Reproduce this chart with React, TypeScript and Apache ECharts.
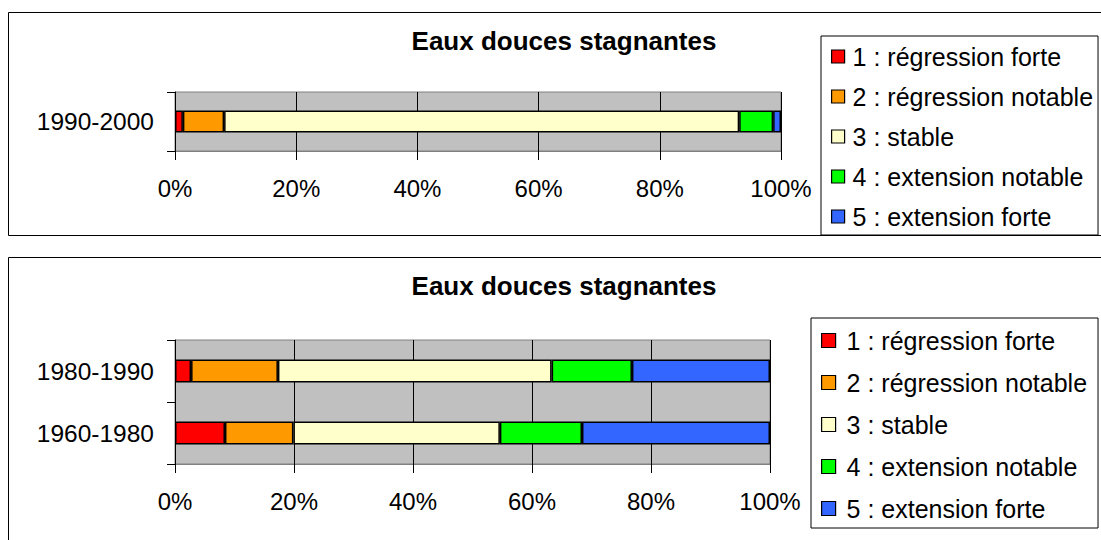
import React, { useEffect, useRef } from "react";
import * as echarts from "echarts";

const FONT = "'Liberation Sans', Arial, sans-serif";

const chartTitle = "Eaux douces stagnantes";
const categoriesTop = ["1990-2000"];
const categoriesBottom = ["1960-1980", "1980-1990"];
const seriesNames = [
  "1 : régression forte",
  "2 : régression notable",
  "3 : stable",
  "4 : extension notable",
  "5 : extension forte",
];
const seriesColors = ["#FF0000", "#FF9900", "#FFFFCC", "#00FF00", "#3366FF"];

// percentages per class (1..5)
const values1990_2000 = [1.3, 6.8, 85.0, 5.6, 1.3];
const values1960_1980 = [8.4, 11.5, 34.7, 13.8, 31.6];
const values1980_1990 = [2.7, 14.6, 46.0, 13.5, 23.2];

const xMin = 0;
const xMax = 100;
const xInterval = 20;

export default function App() {
  const ref = useRef<HTMLDivElement>(null);

  useEffect(() => {
    if (!ref.current) return;
    const chart = echarts.init(ref.current, undefined, { renderer: "svg" });

    const xAxisBase = (gridIndex: number) => ({
      type: "value",
      gridIndex,
      min: xMin,
      max: xMax,
      interval: xInterval,
      axisLine: { show: true, lineStyle: { color: "#808080", width: 1 } },
      axisTick: { show: true, length: 9, lineStyle: { color: "#000", width: 1 } },
      axisLabel: {
        formatter: "{value}%",
        color: "#000",
        fontSize: 24,
        fontFamily: FONT,
        margin: 25,
      },
      splitLine: { show: true, lineStyle: { color: "#000", width: 1 } },
    });

    const yAxisBase = (gridIndex: number, data: string[]) => ({
      type: "category",
      gridIndex,
      data,
      axisLine: { show: true, lineStyle: { color: "#000", width: 1 } },
      axisTick: { show: true, length: 8, lineStyle: { color: "#000", width: 1 } },
      axisLabel: { color: "#000", fontSize: 24.5, fontFamily: FONT, margin: 21 },
      splitLine: { show: false },
    });

    const series: any[] = [];
    seriesNames.forEach((name, i) => {
      series.push({
        type: "bar",
        name,
        stack: "top",
        xAxisIndex: 0,
        yAxisIndex: 0,
        barWidth: 22,
        data: [values1990_2000[i]],
        itemStyle: { color: seriesColors[i], borderColor: "#000", borderWidth: 1.5 },
        emphasis: { disabled: true },
        silent: true,
      });
    });
    seriesNames.forEach((name, i) => {
      series.push({
        type: "bar",
        name,
        stack: "bottom",
        xAxisIndex: 1,
        yAxisIndex: 1,
        barWidth: 23,
        data: [values1960_1980[i], values1980_1990[i]],
        itemStyle: { color: seriesColors[i], borderColor: "#000", borderWidth: 1.5 },
        emphasis: { disabled: true },
        silent: true,
      });
    });

    const legendBase = {
      orient: "vertical",
      icon: "rect",
      data: seriesNames,
      borderColor: "#000",
      borderWidth: 1,
      backgroundColor: "#fff",
      selectedMode: false,
      itemStyle: { borderColor: "#000", borderWidth: 1.2 },
    };

    const titleBase = {
      text: chartTitle,
      left: 564,
      textAlign: "center",
      padding: 0,
      textStyle: { color: "#000", fontSize: 26, fontWeight: "bold", fontFamily: FONT },
    };

    chart.setOption({
      animation: false,
      backgroundColor: "#fff",
      title: [
        { ...titleBase, top: 28 },
        { ...titleBase, top: 273 },
      ],
      graphic: [
        {
          type: "rect",
          z: -10,
          silent: true,
          shape: { x: 8.5, y: 12.5, width: 1110, height: 223 },
          style: { fill: "none", stroke: "#000", lineWidth: 1 },
        },
        {
          type: "rect",
          z: -10,
          silent: true,
          shape: { x: 8.5, y: 257.5, width: 1110, height: 300 },
          style: { fill: "none", stroke: "#000", lineWidth: 1 },
        },
      ],
      grid: [
        {
          left: 175,
          top: 92,
          width: 606,
          height: 59,
          show: true,
          backgroundColor: "#C0C0C0",
          borderColor: "#808080",
          borderWidth: 1,
        },
        {
          left: 175,
          top: 340,
          width: 595,
          height: 124,
          show: true,
          backgroundColor: "#C0C0C0",
          borderColor: "#808080",
          borderWidth: 1,
        },
      ],
      xAxis: [xAxisBase(0), xAxisBase(1)],
      yAxis: [yAxisBase(0, categoriesTop), yAxisBase(1, categoriesBottom)],
      legend: [
        {
          ...legendBase,
          left: 821,
          top: 36,
          itemWidth: 13,
          itemHeight: 13,
          itemGap: 15,
          padding: [8, 5, 6, 10],
          textStyle: { color: "#000", fontSize: 25, fontFamily: FONT, padding: [0, 0, 0, 3] },
        },
        {
          ...legendBase,
          left: 811,
          top: 318,
          itemWidth: 14,
          itemHeight: 14,
          itemGap: 17,
          padding: [10, 11, 7, 10],
          textStyle: { color: "#000", fontSize: 25, fontFamily: FONT, padding: [0, 0, 0, 6] },
        },
      ],
      series,
    });

    return () => chart.dispose();
  }, []);

  return (
    <div
      ref={ref}
      style={{ position: "absolute", left: 0, top: 0, width: 1101, height: 540 }}
    />
  );
}
